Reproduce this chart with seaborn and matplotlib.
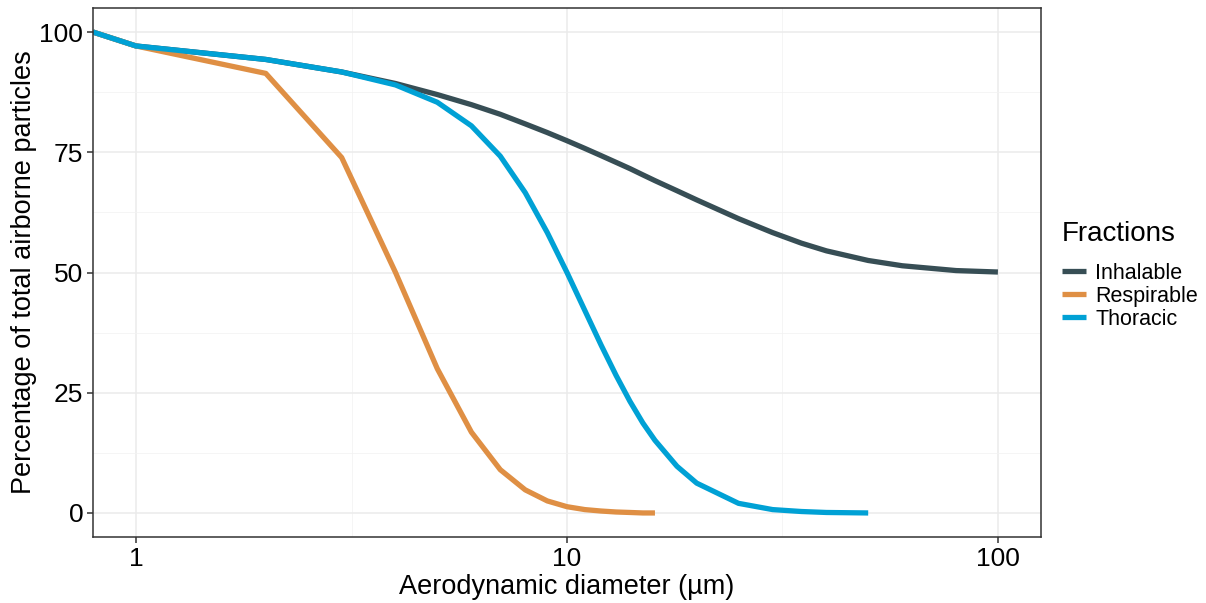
import numpy as np
import pandas as pd
import matplotlib
matplotlib.use("Agg")
import matplotlib.pyplot as plt
import seaborn as sns
from matplotlib.ticker import FixedLocator, NullFormatter

# EN 481 size-selective sampling conventions (% of total airborne particles)
inhalable_d = [0, 1, 2, 3, 4, 5, 6, 7, 8, 9, 10, 11, 12, 13, 14, 15, 16, 18, 20,
               25, 30, 35, 40, 50, 60, 80, 100]
inhalable_pct = [100, 97.1, 94.3, 91.7, 89.3, 87.0, 84.9, 82.9, 80.9, 79.1, 77.4,
                 75.8, 74.3, 72.9, 71.6, 70.3, 69.1, 67.0, 65.1, 61.2, 58.3, 56.1,
                 54.5, 52.5, 51.4, 50.4, 50.1]

thoracic_d = [0, 1, 2, 3, 4, 5, 6, 7, 8, 9, 10, 11, 12, 13, 14, 15, 16, 18, 20,
              25, 30, 35, 40, 50]
thoracic_pct = [100, 97.1, 94.3, 91.7, 89.0, 85.4, 80.5, 74.2, 66.6, 58.3, 50.0,
                42.1, 34.9, 28.6, 23.2, 18.7, 15.1, 9.7, 6.2, 2.0, 0.7, 0.3, 0.1, 0.0]

respirable_d = [0, 1, 2, 3, 4, 5, 6, 7, 8, 9, 10, 11, 12, 13, 14, 15, 16]
respirable_pct = [100, 97.1, 91.4, 73.9, 50.0, 30.0, 16.8, 9.0, 4.8, 2.5, 1.3,
                  0.7, 0.4, 0.2, 0.1, 0.0, 0.0]

fractions = ["Inhalable", "Respirable", "Thoracic"]
colors = ["#374E55", "#DF8F44", "#00A1D5"]

x_breaks = [1, 10, 100]
y_breaks = [0, 25, 50, 75, 100]

df = pd.concat([
    pd.DataFrame({"diameter": inhalable_d, "pct": inhalable_pct, "Fractions": "Inhalable"}),
    pd.DataFrame({"diameter": respirable_d, "pct": respirable_pct, "Fractions": "Respirable"}),
    pd.DataFrame({"diameter": thoracic_d, "pct": thoracic_pct, "Fractions": "Thoracic"}),
], ignore_index=True)

# log10 axis range of the positive diameters, padded by 5 % on each side
pos = df.loc[df["diameter"] > 0, "diameter"]
lo, hi = np.log10(pos.min()), np.log10(pos.max())
pad = 0.05 * (hi - lo)
xmin, xmax = 10 ** (lo - pad), 10 ** (hi + pad)
# a diameter of 0 sits at -inf on a log axis: pin it to the panel's left edge
df["x"] = np.where(df["diameter"] > 0, df["diameter"], xmin)

ylo, yhi = df["pct"].min(), df["pct"].max()
ypad = 0.05 * (yhi - ylo)

plt.rcParams["font.family"] = ["Liberation Sans", "DejaVu Sans"]

fig = plt.figure(figsize=(12.06, 6.03), dpi=100)
ax = fig.add_axes([93 / 1206, 1 - 537 / 603, (1041 - 93) / 1206, (537 - 8) / 603])

sns.lineplot(data=df, x="x", y="pct", hue="Fractions", hue_order=fractions,
             palette=dict(zip(fractions, colors)), linewidth=3.8, ax=ax,
             estimator=None, sort=False, solid_capstyle="butt")

ax.set_xscale("log")
ax.set_xlim(xmin, xmax)
ax.set_ylim(ylo - ypad, yhi + ypad)
ax.xaxis.set_major_locator(FixedLocator(x_breaks))
ax.set_xticklabels([str(v) for v in x_breaks])
ax.xaxis.set_minor_locator(FixedLocator([10 ** 0.5, 10 ** 1.5]))
ax.xaxis.set_minor_formatter(NullFormatter())
ax.yaxis.set_major_locator(FixedLocator(y_breaks))
ax.set_yticklabels([str(v) for v in y_breaks])
ax.yaxis.set_minor_locator(FixedLocator([12.5, 37.5, 62.5, 87.5]))

ax.set_facecolor("white")
ax.grid(which="major", color="#EBEBEB", linewidth=1.1)
ax.grid(which="minor", color="#F2F2F2", linewidth=0.55)
ax.set_axisbelow(True)
for s in ax.spines.values():
    s.set_color("#333333")
    s.set_linewidth(1.1)
ax.tick_params(which="major", length=4, width=1.1, color="#333333",
               labelsize=19, labelcolor="black", pad=3)
ax.tick_params(which="minor", length=0)

ax.set_xlabel("Aerodynamic diameter (µm)", fontsize=19.5, labelpad=2)
ax.set_ylabel("Percentage of total airborne particles", fontsize=19.5, labelpad=1.5)

leg = ax.legend(title="Fractions", loc="center left", bbox_to_anchor=(1.0, 0.494),
                frameon=False, fontsize=15.5, title_fontsize=20, handlelength=1.1,
                handletextpad=0.45, labelspacing=0.1, borderaxespad=0.58)
leg._legend_box.align = "left"
leg._legend_box.sep = 11
for line in leg.get_lines():
    line.set_linewidth(3.8)
    line.set_solid_capstyle("butt")

fig.savefig("out.png", dpi=100, facecolor="white")
